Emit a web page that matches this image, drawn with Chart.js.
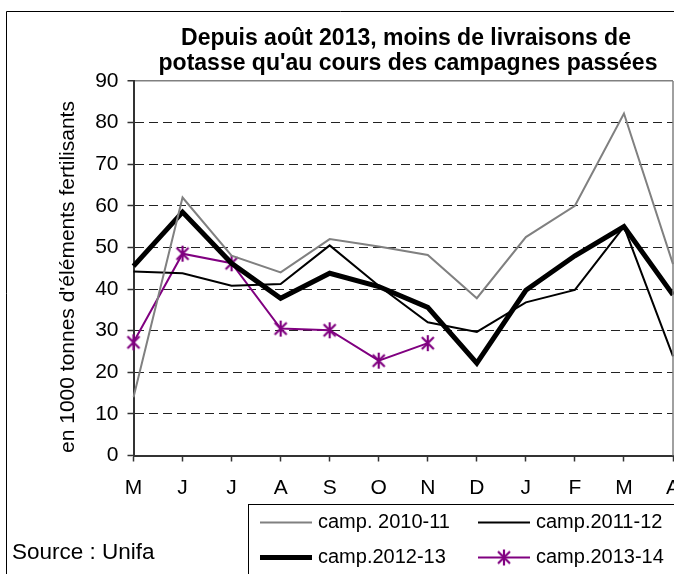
<!DOCTYPE html>
<html>
<head>
<meta charset="utf-8">
<script src="https://cdn.jsdelivr.net/npm/chart.js@4/dist/chart.umd.min.js"></script>
<style>
html,body{margin:0;padding:0;background:#fff;}
canvas{display:block;}
</style>
</head>
<body>
<canvas id="c" width="674" height="574"></canvas>
<script>
const categories = ['M','J','J','A','S','O','N','D','J','F','M','A'];
const camp2010_11 = [14, 62, 48, 44, 52, 50.2, 48.2, 37.8, 52.5, 60, 82.2, 46];
const camp2011_12 = [44.2, 43.8, 40.8, 41.2, 50.5, 40.8, 32, 29.7, 36.8, 39.8, 55, 23.8];
const camp2012_13 = [45.5, 58.5, 46.2, 37.8, 43.8, 40.6, 35.6, 22.2, 39.7, 48, 55, 38.6];
const camp2013_14 = [27.2, 48.5, 46.2, 30.5, 30.1, 22.8, 27, null, null, null, null, null];
const seriesNames = ['camp. 2010-11', 'camp.2011-12', 'camp.2012-13', 'camp.2013-14'];
const titleLines = ["Depuis août 2013, moins de livraisons de", "potasse qu'au cours des campagnes passées"];
const yTitle = "en 1000 tonnes d'éléments fertilisants";
const sourceText = 'Source : Unifa';

const FONT = "'Liberation Sans', Arial, sans-serif";

// Excel-like star marker: X plus vertical bar
const starImg = (function () {
  const s = 18;
  const cv = document.createElement('canvas');
  cv.width = s; cv.height = s;
  const c = cv.getContext('2d');
  const cx = s / 2, cy = s / 2, r = 8;
  c.strokeStyle = '#800080'; c.lineWidth = 2.2;
  c.beginPath();
  c.moveTo(cx, cy - r); c.lineTo(cx, cy + r);
  const d = r * 0.75;
  c.moveTo(cx - d, cy - d); c.lineTo(cx + d, cy + d);
  c.moveTo(cx - d, cy + d); c.lineTo(cx + d, cy - d);
  c.stroke();
  return cv;
})();

const decor = {
  id: 'decor',
  beforeDraw(chart) {
    const ctx = chart.ctx;
    ctx.save();
    ctx.fillStyle = '#fff';
    ctx.fillRect(0, 0, chart.width, chart.height);
    ctx.restore();
  },
  afterDraw(chart) {
    const ctx = chart.ctx;
    const a = chart.chartArea;
    ctx.save();
    // outer frame
    ctx.strokeStyle = '#000';
    ctx.lineWidth = 1;
    ctx.beginPath();
    ctx.moveTo(6.5, 600);
    ctx.lineTo(6.5, 11.5);
    ctx.lineTo(700, 11.5);
    ctx.stroke();
    // plot frame right
    ctx.strokeStyle = '#808080';
    ctx.lineWidth = 1.5;
    ctx.beginPath();
    ctx.moveTo(a.right, a.top);
    ctx.lineTo(a.right, a.bottom);
    ctx.stroke();
    // title
    ctx.fillStyle = '#000';
    ctx.font = 'bold 23px ' + FONT;
    ctx.textAlign = 'center';
    ctx.textBaseline = 'alphabetic';
    ctx.fillText(titleLines[0], 406, 45);
    ctx.fillText(titleLines[1], 408, 70);
    // y title
    ctx.save();
    ctx.translate(68, 277);
    ctx.rotate(-Math.PI / 2);
    ctx.font = '21px ' + FONT;
    ctx.textAlign = 'center';
    ctx.textBaseline = 'middle';
    ctx.fillText(yTitle, 0, 0);
    ctx.restore();
    // source
    ctx.font = '22.5px ' + FONT;
    ctx.textAlign = 'left';
    ctx.textBaseline = 'middle';
    ctx.fillText(sourceText, 12, 553);
    // legend box
    ctx.strokeStyle = '#000';
    ctx.lineWidth = 1;
    ctx.strokeRect(248.5, 504.5, 500, 100);
    const pos = [[260, 522.5], [478, 522.5], [260, 557.5], [478, 557.5]];
    chart.data.datasets.forEach((ds, i) => {
      const [x, y] = pos[i];
      ctx.strokeStyle = ds.borderColor;
      ctx.lineWidth = ds.borderWidth;
      ctx.lineCap = 'butt';
      ctx.beginPath();
      ctx.moveTo(x, y);
      ctx.lineTo(x + 52, y);
      ctx.stroke();
      if (ds.pointStyle && typeof ds.pointStyle === 'object') {
        const img = ds.pointStyle;
        ctx.drawImage(img, x + 26 - img.width / 2, y - img.height / 2);
      }
      ctx.fillStyle = '#000';
      ctx.font = '20px ' + FONT;
      ctx.textAlign = 'left';
      ctx.textBaseline = 'middle';
      ctx.fillText(ds.label, x + 58, y);
    });
    ctx.restore();
  }
};

new Chart(document.getElementById('c'), {
  type: 'line',
  data: {
    labels: categories,
    datasets: [
      { label: seriesNames[0], data: camp2010_11, borderColor: '#808080', borderWidth: 2, pointRadius: 0, tension: 0 },
      { label: seriesNames[1], data: camp2011_12, borderColor: '#000000', borderWidth: 2, pointRadius: 0, tension: 0 },
      { label: seriesNames[2], data: camp2012_13, borderColor: '#000000', borderWidth: 5, pointRadius: 0, tension: 0 },
      { label: seriesNames[3], data: camp2013_14, borderColor: '#800080', borderWidth: 2, pointRadius: 8, pointStyle: starImg, tension: 0, spanGaps: false }
    ]
  },
  options: {
    responsive: false,
    animation: false,
    devicePixelRatio: 1,
    layout: { autoPadding: false, padding: { top: 81, right: 1, left: 0, bottom: 0 } },
    plugins: { legend: { display: false }, title: { display: false }, tooltip: { enabled: false } },
    scales: {
      x: {
        offset: false,
        afterFit(scale) {
          scale.height = 574 - 81 - 374.5;
          scale.paddingLeft = 0;
          scale.paddingRight = 0;
        },
        grid: { drawOnChartArea: false, drawTicks: true, tickLength: 6, tickColor: '#333', tickWidth: 1.5 },
        border: { display: true, color: '#333', width: 2 },
        ticks: { color: '#000', font: { family: FONT, size: 21 }, padding: 14, maxRotation: 0, autoSkip: false }
      },
      y: {
        min: 0, max: 90,
        afterFit(scale) { scale.width = 133.5; },
        grid: {
          drawOnChartArea: true, drawTicks: true, tickLength: 6, tickWidth: 1.5, tickColor: '#333', tickBorderDash: [],
          color: (c) => (c.tick && c.tick.value === 90) ? '#808080' : '#222',
          lineWidth: (c) => (c.tick && c.tick.value === 90) ? 1.5 : 1
        },
        border: {
          display: true, color: '#333', width: 2,
          dash: (c) => (c.tick && (c.tick.value === 90 || c.tick.value === 0)) ? [] : [9, 5]
        },
        ticks: { stepSize: 10, color: '#000', font: { family: FONT, size: 21 }, padding: 9 }
      }
    }
  },
  plugins: [decor]
});
</script>
</body>
</html>
